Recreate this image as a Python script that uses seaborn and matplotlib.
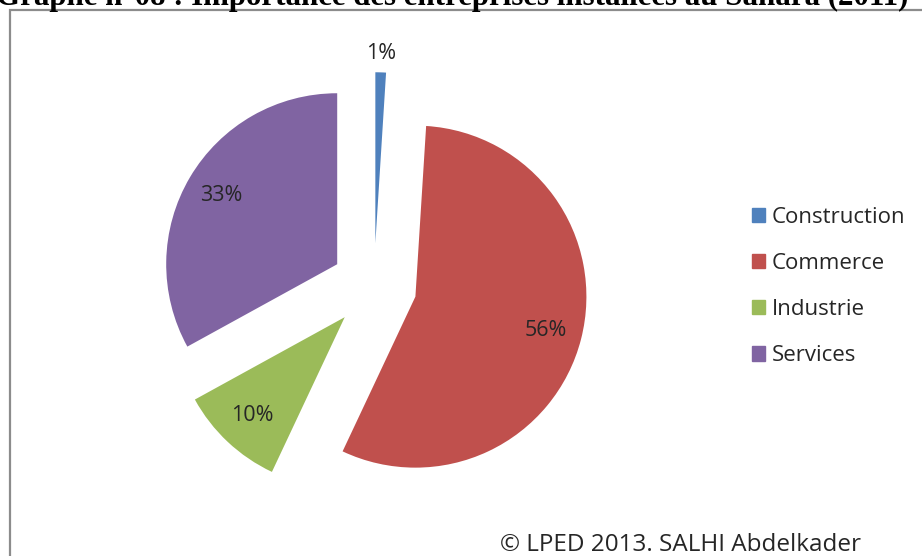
import matplotlib
matplotlib.use("Agg")
import matplotlib.pyplot as plt
import matplotlib.patches as mpatches
import seaborn as sns
import numpy as np

categories = ["Construction", "Commerce", "Industrie", "Services"]
values = [1, 56, 10, 33]
colors = ["#4F81BD", "#C0504D", "#9BBB59", "#8064A2"]
title = "Graphe n°08 : Importance des entreprises installées au Sahara (2011)"
credit = "© LPED 2013. SALHI Abdelkader"

sns.set_theme(style="white")
plt.rcParams["font.family"] = ["Open Sans", "DejaVu Sans"]

W, H = 922, 556
fig = plt.figure(figsize=(W / 100, H / 100), dpi=100)

# pie axes: center (374, 286 from top), radius 171 px, limits +-1.5
R = 171
cx, cy = 374, H - 286
side = 3 * R
ax = fig.add_axes([(cx - side / 2) / W, (cy - side / 2) / H, side / W, side / H])
wedges, texts, autotexts = ax.pie(
    values, colors=colors, startangle=90, counterclock=False,
    explode=[0.25] * 4, radius=1.0, autopct="%1.0f%%", pctdistance=0.79,
    wedgeprops=dict(linewidth=0), textprops=dict(fontsize=15.5, color="#262626"))
ax.set_xlim(-1.5, 1.5)
ax.set_ylim(-1.5, 1.5)
ax.set_aspect("equal")
ax.axis("off")

# small slice label sits outside its wedge
w = wedges[0]
mid = np.deg2rad((w.theta1 + w.theta2) / 2)
ox, oy = w.center
autotexts[0].set_position((ox + 1.11 * np.cos(mid), oy + 1.11 * np.sin(mid)))

handles = [mpatches.Patch(color=c, label=l) for c, l in zip(colors, categories)]
fig.legend(handles=handles, loc="upper left", bbox_to_anchor=(752 / W, 1 - 207 / H),
           frameon=False, fontsize=16, handlelength=0.6, handleheight=0.6,
           handletextpad=0.3, labelspacing=1.13, borderpad=0, borderaxespad=0,
           labelcolor="#262626")

# frame box
fig.patches.append(mpatches.Rectangle((9.5 / W, -0.1), 1.2, 1 - 9.5 / H + 0.1,
                                      transform=fig.transFigure, fill=False,
                                      edgecolor="#8c8c8c", linewidth=1.6, clip_on=False))

fig.text(908 / W, 1 - 4.5 / H, title, ha="right", va="baseline",
         family="Liberation Serif", weight="bold", fontsize=22.2, color="black")
fig.text(500 / W, 1 - 551 / H, credit, ha="left", va="baseline", fontsize=17.5,
         color="#262626")

fig.savefig("out.png", dpi=100)
